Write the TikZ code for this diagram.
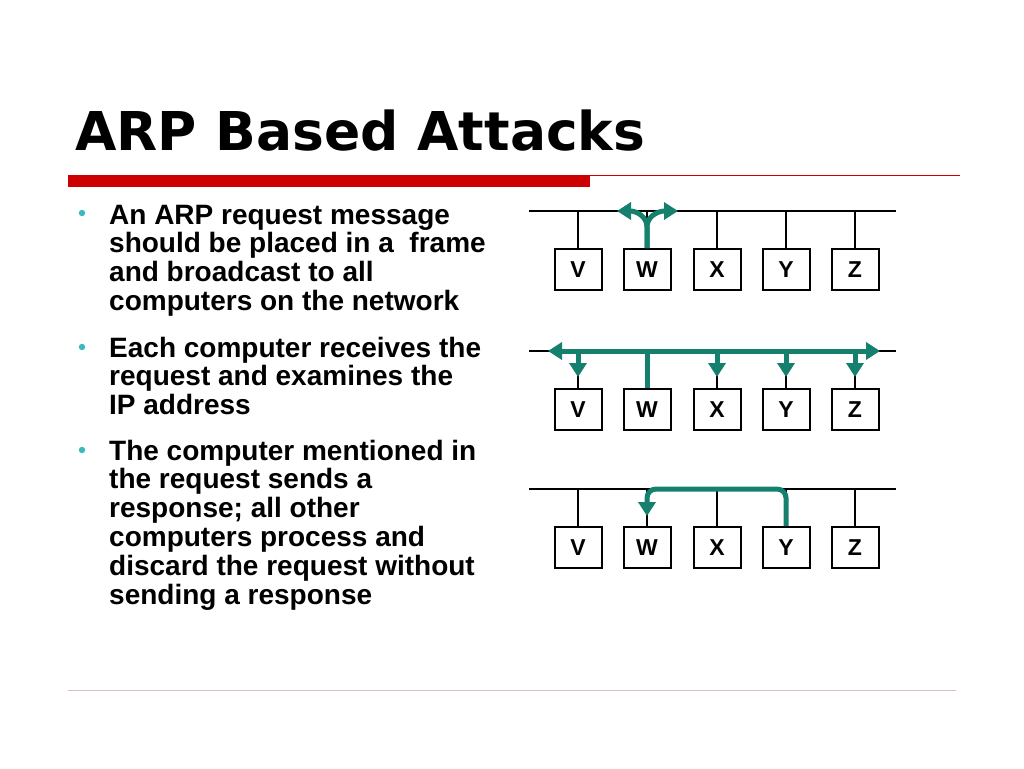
\documentclass[tikz,border=0pt]{standalone}
\usepackage{fontspec}
\setmainfont{Liberation Sans}
\newfontfamily\titlefont{DejaVu Sans}
\usetikzlibrary{arrows.meta,calc}
\definecolor{slidered}{RGB}{204,0,0}
\definecolor{rulepink}{RGB}{216,190,190}
\definecolor{dotteal}{RGB}{60,185,190}
\definecolor{packet}{RGB}{22,128,110}

\begin{document}
\begin{tikzpicture}[x=1pt,y=-1pt,
    host/.style={draw, line width=2pt, minimum width=47pt, minimum height=41pt, inner sep=0pt,
      font=\fontsize{23}{23}\selectfont\bfseries},
    bus/.style={line width=2pt},
    drop/.style={line width=1.5pt},
    msg/.style={draw=packet, line width=5pt},
    msgarrow/.style={-{Triangle[length=14pt,width=17pt]}},
    bulletext/.style={anchor=base west, inner sep=0pt, align=left,
      font=\fontsize{28}{28.8}\selectfont\bfseries}]
    \useasboundingbox (0,0) rectangle (1024,768);
    \fill[white] (0,0) rectangle (1024,768);

    % title and rules
    \node[anchor=base west, inner sep=0pt, font=\titlefont\bfseries\fontsize{53.5}{53.5}\selectfont] (title) at (75,150) {ARP Based Attacks};
    \fill[slidered] (68,175) rectangle (590,187);
    \draw[slidered, line width=1.5pt] (590,175.5) -- (960,175.5);
    \draw[rulepink, line width=1pt] (68,690) -- (956,690);

    % bullets (nodes sit on the baseline of their last line)
    \fill[dotteal] (82,213) circle (3.2);
    \fill[dotteal] (82,347) circle (3.2);
    \fill[dotteal] (82,450) circle (3.2);
    \node[bulletext] (t1) at (109,310.4) {An ARP request message\\should be placed in a\ \ frame\\and broadcast to all\\computers on the network};
    \node[bulletext] (t2) at (109,414.6) {Each computer receives the\\request and examines the\\IP address};
    \node[bulletext] (t3) at (109,604) {The computer mentioned in\\the request sends a\\response; all other\\computers process and\\discard the request without\\sending a response};

    % three networks
    \foreach \row/\by in {1/211,2/351,3/489}{
      \coordinate (l\row) at (529,\by);
      \coordinate (r\row) at (896,\by);
      \draw[bus] (l\row) -- (r\row);
      \foreach \n/\x in {V/578,W/647,X/717,Y/786,Z/855}{
        \node[host] (\n\row) at (\x,\by+58.5) {\n};
        \coordinate (b\n\row) at (\x,\by);
        \draw[drop] (b\n\row) -- (\n\row.north);
      }
    }

    % request leaves W
    \draw[msg, msgarrow] (W1.north) -- ($(bW1)+(0,16)$) .. controls ($(bW1)+(0,6)$) and ($(bW1)+(-10,0)$) .. ($(bW1)+(-30,0)$);
    \draw[msg, msgarrow] (W1.north) -- ($(bW1)+(0,16)$) .. controls ($(bW1)+(0,6)$) and ($(bW1)+(10,0)$) .. ($(bW1)+(31,0)$);

    % request reaches everyone
    \draw[msg, {Triangle[length=14pt,width=17pt]}-{Triangle[length=14pt,width=17pt]}] ($(l2)+(19,0)$) -- ($(r2)+(-16,0)$);
    \draw[msg] (W2.north) -- (bW2);
    \foreach \n in {V,X,Y,Z}
      \draw[msg, msgarrow] (b\n2) -- ($(\n2.north)+(0,-11)$);

    % reply from Y to W
    \draw[msg, msgarrow, rounded corners=9pt] (Y3.north) -- (bY3) -- (bW3) -- ($(W3.north)+(0,-10)$);
  \end{tikzpicture}
\end{document}
